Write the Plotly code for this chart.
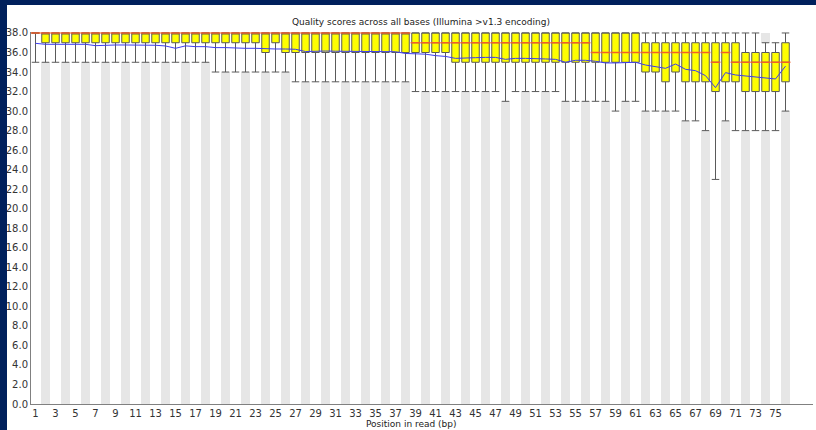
import plotly.graph_objects as go

positions = list(range(1, 77))

q3 = [38]*61 + [37, 37, 37, 37, 37, 37, 37, 37, 37, 37, 36, 36, 36, 36, 37]
median = ([38]*38 + [37]*18 + [36]*5 +
          [36, 36, 36, 36, 36, 36, 36, 35, 36, 35, 35, 35, 35, 35, 35])
q1 = ([38] + [37]*22 + [36, 37] + [36]*17 + [35]*19 +
      [34, 34, 33, 34, 33, 33, 33, 32, 33, 33, 32, 32, 32, 32, 33])
p10 = ([35]*18 + [34]*8 + [33]*12 + [32]*9 + [31] + [32]*5 +
       [31]*5 + [30] + [31, 31] +
       [30, 30, 30, 30, 29, 29, 28, 23, 29, 28, 28, 28, 28, 28, 30])
p90 = [38]*61 + [38, 38, 38, 38, 38, 38, 38, 38, 38, 38, 38, 38, 37, 37, 38]
mean = [36.94, 36.84, 36.84, 36.84, 36.84, 36.84, 36.70, 36.77, 36.77, 36.77,
        36.77, 36.77, 36.74, 36.67, 36.43, 36.68, 36.60, 36.60, 36.50, 36.50,
        36.43, 36.43, 36.43, 36.36, 36.36, 36.36, 36.33, 36.10, 36.15, 36.15,
        36.13, 36.13, 36.13, 36.13, 36.13, 36.08, 36.08, 35.90, 35.85, 35.83,
        35.68, 35.60, 35.40, 35.40, 35.47, 35.50, 35.50, 35.30, 35.40, 35.40,
        35.40, 35.34, 35.30, 35.00, 35.20, 35.20, 35.10, 34.93, 34.93, 34.95,
        35.00, 34.72, 34.55, 34.38, 34.82, 34.28, 34.14, 33.63, 32.40, 33.94,
        33.70, 33.60, 33.53, 33.42, 33.29, 34.60]

x_tick_vals = list(range(1, 76, 2))
y_tick_vals = list(range(0, 39, 2))
y_max = 38
title_text = "Quality scores across all bases (Illumina >v1.3 encoding)"
x_title = "Position in read (bp)"

# alternating background stripes (even positions), interrupted by the whisker span
band_idx = [i for i, p in enumerate(positions) if p % 2 == 0]
band_x = [positions[i] for i in band_idx]
band_low_h = [p10[i] for i in band_idx]
band_high_base = [p90[i] for i in band_idx]
band_high_h = [y_max - p90[i] for i in band_idx]

FONT = "DejaVu Sans"
W, H = 816, 430
ML, MR, MT, MB = 31, 3, 32, 26
plot_w = W - ML - MR
plot_h = H - MT - MB
band_color = "#e6e6e6"

fig = go.Figure()

fig.add_trace(go.Bar(
    x=band_x, y=band_low_h, base=0, width=0.95,
    marker=dict(color=band_color, line=dict(width=0)),
    hoverinfo="skip", showlegend=False))
fig.add_trace(go.Bar(
    x=band_x, y=band_high_h, base=band_high_base, width=0.95,
    marker=dict(color=band_color, line=dict(width=0)),
    hoverinfo="skip", showlegend=False))

fig.add_trace(go.Box(
    x=positions, q1=q1, median=median, q3=q3, lowerfence=p10, upperfence=p90,
    width=0.75, whiskerwidth=1, fillcolor="#ffff00",
    line=dict(color="#5a5a5a", width=1), boxpoints=False,
    hoverinfo="skip", showlegend=False))

fig.add_trace(go.Scatter(
    x=positions, y=median, mode="markers",
    marker=dict(symbol="line-ew", size=7, line=dict(color="#f0602a", width=1.5)),
    cliponaxis=False, hoverinfo="skip", showlegend=False))

fig.add_trace(go.Scatter(
    x=positions, y=mean, mode="lines",
    line=dict(color="#3c3cf0", width=1),
    hoverinfo="skip", showlegend=False))

def px_to_paper_x(px):
    return (px - ML) / plot_w

def py_to_paper_y(py):
    return (H - MB - py) / plot_h

navy = "#00205c"
shapes = [
    dict(type="rect", xref="paper", yref="paper",
         x0=px_to_paper_x(0), x1=px_to_paper_x(7),
         y0=py_to_paper_y(H), y1=py_to_paper_y(0),
         fillcolor=navy, line=dict(width=0), layer="above"),
    dict(type="rect", xref="paper", yref="paper",
         x0=px_to_paper_x(0), x1=px_to_paper_x(W),
         y0=py_to_paper_y(5), y1=py_to_paper_y(0),
         fillcolor=navy, line=dict(width=0), layer="above"),
]

ytext = []
for v in y_tick_vals:
    s = f"{v:.1f}"
    if len(s) < 4:
        s = "\u2007" + s
    ytext.append(s)

fig.update_layout(
    width=W, height=H,
    margin=dict(l=ML, r=MR, t=MT, b=MB),
    paper_bgcolor="white", plot_bgcolor="white",
    showlegend=False,
    shapes=shapes,
    barmode="overlay",
    bargap=0,
    font=dict(family=FONT, size=10, color="#333333"),
    xaxis=dict(range=[0.55, 0.55 + plot_w / 10.0], showgrid=False, zeroline=False,
               showline=True, linecolor="#808080", linewidth=1,
               tickmode="array", tickvals=x_tick_vals,
               ticktext=[str(v) for v in x_tick_vals],
               ticks="", tickfont=dict(size=10, color="#333333")),
    yaxis=dict(range=[0, 38.1], showgrid=False, zeroline=False,
               showline=True, linecolor="#808080", linewidth=1,
               tickmode="array", tickvals=y_tick_vals, ticktext=ytext,
               ticks="", tickfont=dict(size=10, color="#333333")),
    annotations=[
        dict(text=title_text, xref="paper", yref="paper",
             x=px_to_paper_x(421), y=py_to_paper_y(22),
             xanchor="center", yanchor="middle", showarrow=False,
             font=dict(family=FONT, size=9, color="#222222")),
        dict(text=x_title, xref="paper", yref="paper",
             x=px_to_paper_x(411), y=py_to_paper_y(424),
             xanchor="center", yanchor="middle", showarrow=False,
             font=dict(family=FONT, size=9, color="#222222")),
    ],
)

fig.write_html(
    "out.html",
    config={"displayModeBar": False},
    post_script="document.body.style.margin='0';document.body.style.overflow='hidden';",
)
